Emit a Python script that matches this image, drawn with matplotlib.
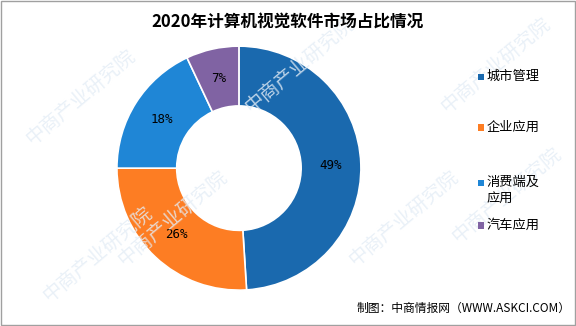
import matplotlib
matplotlib.use("Agg")
import matplotlib.pyplot as plt
from matplotlib.patches import Rectangle

plt.rcParams['font.family'] = ['Noto Sans CJK SC', 'DejaVu Sans']

title = "2020年计算机视觉软件市场占比情况"
labels = ["城市管理", "企业应用", "消费端及\n应用", "汽车应用"]
shares = [49, 26, 18, 7]
colors = ["#1a69ae", "#fd7d23", "#1f86d6", "#8063a3"]
source = "制图：中商情报网（WWW.ASKCI.COM）"

fig = plt.figure(figsize=(5.76, 3.26), dpi=100)
fig.patch.set_facecolor("white")

# faint watermark
for (wx, wy) in [(0.14, 0.70), (0.52, 0.80), (0.86, 0.80), (0.30, 0.33), (0.70, 0.33), (0.17, 0.22), (0.88, 0.40)]:
    fig.text(wx, wy, "中商产业研究院", fontsize=14, color="#e4edf6", rotation=40,
             ha="center", va="center", zorder=0, alpha=0.8)

ax = fig.add_axes([0.203, 0.110, 0.4236, 0.7485])
wedges, _, autotexts = ax.pie(
    shares, colors=colors, startangle=90, counterclock=False,
    autopct=lambda p: f"{p:.0f}%", pctdistance=0.75,
    wedgeprops=dict(width=0.49, edgecolor="white", linewidth=1.2),
    textprops=dict(fontsize=9, color="black", family=["DejaVu Sans Mono"]),
)
ax.set_xlim(-1, 1)
ax.set_ylim(-1, 1)
ax.set_aspect("equal")

fig.text(0.5, 0.93, title, ha="center", va="center", fontsize=12, fontweight="bold")

# legend
leg_y = [0.765, 0.61, 0.44, 0.31]
leg_text_y = [0.765, 0.61, 0.415, 0.31]
for c, lab, y, ty in zip(colors, labels, leg_y, leg_text_y):
    fig.patches.append(Rectangle((0.829, y - 0.011), 0.011, 0.02, transform=fig.transFigure,
                                 facecolor=c, edgecolor="none"))
    fig.text(0.845, ty, lab, fontsize=9.5, va="center", ha="left", linespacing=1.45)

fig.text(0.99, 0.055, source, ha="right", va="center", fontsize=8.5)

fig.patches.append(Rectangle((0.001, 0.002), 0.997, 0.995, transform=fig.transFigure,
                             fill=False, edgecolor="#a0a0a0", linewidth=1))

fig.savefig("out.png", dpi=100)
